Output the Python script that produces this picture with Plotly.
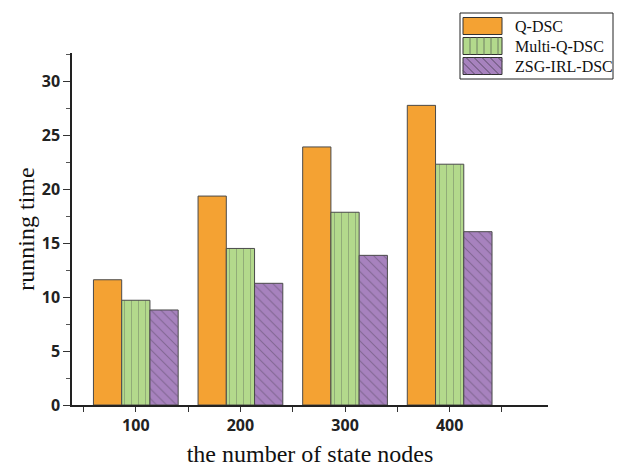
import plotly.graph_objects as go

categories = ["100", "200", "300", "400"]
q_dsc = [11.6, 19.35, 23.9, 27.75]
multi_q_dsc = [9.7, 14.5, 17.85, 22.3]
zsg_irl_dsc = [8.8, 11.27, 13.86, 16.05]
series_names = ["Q-DSC", "Multi-Q-DSC", "ZSG-IRL-DSC"]

xpos = list(range(len(categories)))
edge = "#4a4a4a"
colors = ["#F4A233", "#B3D98C", "#A782BE"]
pat_fg = [None, "#6f7f63", "#5a4a66"]
shapes_pat = ["", "|", "\\"]

fig = go.Figure()
for name, vals, c, fg, sh in zip(series_names, [q_dsc, multi_q_dsc, zsg_irl_dsc],
                                  colors, pat_fg, shapes_pat):
    marker = dict(color=c, line=dict(color=edge, width=1))
    if sh:
        marker["pattern"] = dict(shape=sh, fgcolor=fg, bgcolor=c, size=7, solidity=0.15)
    fig.add_trace(go.Bar(x=xpos, y=vals, name=name, marker=marker, showlegend=False))

# ---- custom legend (screen-pixel layout converted to paper coords) ----
L, T, PW, PH = 64, 45, 476, 352   # plot area inside the figure
OFF = 8                            # page offset of the figure

def px(X):
    return (X - OFF - L) / PW

def py(Y):
    return (T + PH - (Y - OFF)) / PH

shapes = []
annots = []
shapes.append(dict(type="rect", xref="paper", yref="paper",
                   x0=px(460), x1=px(613), y0=py(13), y1=py(79),
                   line=dict(color="#222", width=1), fillcolor="white", layer="above"))
sw_x0, sw_x1 = 463, 502
rows = [(17.5, 34.5), (37.5, 54.5), (57.5, 74.5)]
for i, (y0, y1) in enumerate(rows):
    shapes.append(dict(type="rect", xref="paper", yref="paper",
                       x0=px(sw_x0), x1=px(sw_x1), y0=py(y0), y1=py(y1),
                       line=dict(color="#333", width=1), fillcolor=colors[i], layer="above"))
    if shapes_pat[i] == "|":
        xx = sw_x0 + 7
        while xx < sw_x1 - 1:
            shapes.append(dict(type="line", xref="paper", yref="paper",
                               x0=px(xx), x1=px(xx), y0=py(y0), y1=py(y1),
                               line=dict(color=pat_fg[i], width=1), layer="above"))
            xx += 7
    elif shapes_pat[i] == "\\":
        h = y1 - y0
        k = -h + 4
        while k < (sw_x1 - sw_x0):
            ya, yb = y0, y1
            xa, xb = sw_x0 + k, sw_x0 + k + h
            if xa < sw_x0:
                ya = y0 + (sw_x0 - xa); xa = sw_x0
            if xb > sw_x1:
                yb = y1 - (xb - sw_x1); xb = sw_x1
            if yb > ya:
                shapes.append(dict(type="line", xref="paper", yref="paper",
                                   x0=px(xa), x1=px(xb), y0=py(ya), y1=py(yb),
                                   line=dict(color=pat_fg[i], width=1), layer="above"))
            k += 8
    annots.append(dict(xref="paper", yref="paper", x=px(513), y=py((y0 + y1) / 2),
                       xanchor="left", yanchor="middle", showarrow=False,
                       text=series_names[i],
                       font=dict(family="Liberation Serif", size=16, color="#111")))

fig.update_layout(
    width=617, height=459,
    margin=dict(l=L, r=77, t=T, b=62, autoexpand=False),
    paper_bgcolor="white", plot_bgcolor="white",
    barmode="group", bargap=0.19, bargroupgap=0,
    shapes=shapes, annotations=annots,
    xaxis=dict(
        automargin=False,
        range=[-0.61, 3.94],
        tickmode="array", tickvals=xpos, ticktext=categories,
        ticks="outside", ticklen=5, tickcolor="#333", tickwidth=1,
        minor=dict(tickmode="array", tickvals=[-0.5, 0.5, 1.5, 2.5, 3.5],
                   ticks="outside", ticklen=5, tickcolor="#333"),
        showline=True, linecolor="#222", linewidth=1.5,
        showgrid=False, zeroline=False,
        tickfont=dict(family="Open Sans", size=16, color="#222", weight="bold"),
        title=dict(text="the number of state nodes",
                   font=dict(family="Liberation Serif", size=24, color="#111"),
                   standoff=19),
    ),
    yaxis=dict(
        automargin=False,
        range=[0, 32.6],
        tickmode="linear", tick0=0, dtick=5,
        ticks="outside", ticklen=7, tickcolor="#333", tickwidth=1,
        minor=dict(tick0=2.5, dtick=5, ticks="outside", ticklen=4, tickcolor="#555"),
        showline=True, linecolor="#222", linewidth=1.5,
        showgrid=False, zeroline=False,
        tickfont=dict(family="Open Sans", size=16, color="#222", weight="bold"),
        title=dict(text="running time",
                   font=dict(family="Liberation Serif", size=24, color="#111"),
                   standoff=0),
    ),
)

fig.write_html("out.html")
